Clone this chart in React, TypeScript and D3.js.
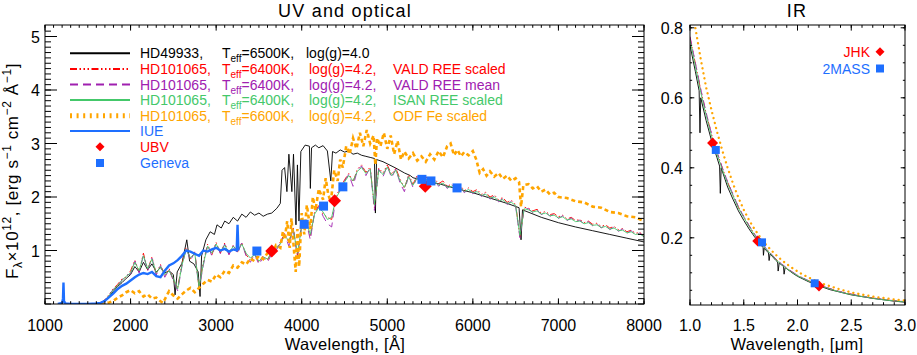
import React from 'react';
import * as d3 from 'd3';

// ---- UV / optical panel data (flux x 1e12, erg s^-1 cm^-2 A^-1) ----
const modelWave = d3.range(1650, 8001, 50);

const valdScaled = [
  0.02, 0.08, 0.18, 0.29, 0.37, 0.47, 0.50, 0.62, 0.82, 0.60,
  0.95, 0.64, 0.88, 0.56, 0.74, 0.52, 0.66, 0.45, 0.30, 0.75,
  1.06, 0.84, 0.98, 0.30, 0.78, 1.12, 0.92, 1.15, 0.95, 1.14,
  0.93, 1.10, 0.97, 1.15, 0.92, 0.82, 0.95, 0.78, 0.90, 0.82,
  0.98, 1.02, 1.16, 1.32, 1.14, 1.44, 0.90, 1.50, 1.58, 1.26,
  1.72, 1.84, 1.68, 1.62, 1.58, 2.02, 2.16, 2.32, 2.44, 2.28,
  2.52, 2.60, 2.46, 2.56, 1.80, 2.54, 2.45, 2.60, 2.42, 2.54,
  2.33, 2.16, 2.42, 2.24, 2.40, 2.30, 2.38, 2.28, 2.34, 2.25,
  2.30, 2.20, 2.24, 2.16, 2.22, 2.12, 2.17, 2.10, 2.14, 2.05,
  2.09, 2.00, 2.04, 1.95, 1.99, 1.90, 1.94, 1.86, 1.26, 1.81,
  1.79, 1.74, 1.77, 1.70, 1.73, 1.67, 1.69, 1.63, 1.66, 1.59,
  1.62, 1.56, 1.58, 1.52, 1.55, 1.49, 1.51, 1.45, 1.48, 1.42,
  1.45, 1.39, 1.41, 1.35, 1.38, 1.32, 1.34, 1.28,
];

const valdMean = [
  0.02, 0.07, 0.17, 0.28, 0.34, 0.45, 0.54, 0.56, 0.80, 0.58,
  0.92, 0.62, 0.86, 0.54, 0.72, 0.50, 0.64, 0.44, 0.25, 0.70,
  1.04, 0.82, 0.96, 0.28, 0.72, 1.10, 0.90, 1.14, 0.94, 1.12,
  0.92, 1.09, 0.95, 1.14, 0.90, 0.78, 0.93, 0.74, 0.87, 0.78,
  0.94, 1.00, 1.14, 1.30, 1.08, 1.42, 0.86, 1.48, 1.56, 1.20,
  1.70, 1.82, 1.64, 1.50, 1.44, 2.00, 2.14, 2.30, 2.42, 2.20,
  2.50, 2.58, 2.40, 2.55, 1.75, 2.52, 2.38, 2.58, 2.36, 2.52,
  2.26, 2.10, 2.40, 2.18, 2.38, 2.26, 2.36, 2.24, 2.32, 2.20,
  2.28, 2.16, 2.22, 2.12, 2.20, 2.08, 2.15, 2.06, 2.12, 2.01,
  2.07, 1.96, 2.02, 1.91, 1.97, 1.86, 1.92, 1.82, 1.24, 1.79,
  1.78, 1.71, 1.76, 1.67, 1.72, 1.64, 1.68, 1.60, 1.65, 1.56,
  1.61, 1.53, 1.57, 1.49, 1.54, 1.46, 1.50, 1.42, 1.47, 1.39,
  1.44, 1.36, 1.40, 1.32, 1.37, 1.29, 1.33, 1.25,
];

const isanScaled = [
  0.02, 0.07, 0.16, 0.27, 0.35, 0.44, 0.52, 0.58, 0.78, 0.62,
  0.90, 0.66, 0.84, 0.58, 0.70, 0.55, 0.62, 0.48, 0.28, 0.72,
  1.02, 0.86, 0.95, 0.32, 0.75, 1.08, 0.95, 1.12, 0.98, 1.10,
  0.96, 1.08, 1.00, 1.12, 0.95, 0.86, 0.92, 0.80, 0.88, 0.84,
  0.96, 1.04, 1.12, 1.28, 1.18, 1.40, 0.95, 1.45, 1.55, 1.30,
  1.68, 1.80, 1.72, 1.58, 1.62, 1.98, 2.12, 2.28, 2.40, 2.30,
  2.48, 2.55, 2.44, 2.52, 1.85, 2.50, 2.42, 2.56, 2.40, 2.50,
  2.30, 2.18, 2.38, 2.22, 2.36, 2.28, 2.34, 2.26, 2.30, 2.22,
  2.26, 2.18, 2.20, 2.14, 2.18, 2.10, 2.14, 2.08, 2.10, 2.03,
  2.05, 1.98, 2.00, 1.93, 1.95, 1.88, 1.90, 1.84, 1.28, 1.78,
  1.76, 1.72, 1.74, 1.68, 1.70, 1.65, 1.66, 1.61, 1.63, 1.57,
  1.59, 1.54, 1.55, 1.50, 1.52, 1.47, 1.48, 1.43, 1.45, 1.40,
  1.42, 1.37, 1.38, 1.33, 1.35, 1.30, 1.31, 1.26,
];

const hd49933Wave = [
  1650, 1700, 1750, 1800, 1850, 1900, 1950, 2000, 2050, 2100, 2150, 2200, 2250, 2300, 2350,
  2400, 2450, 2500, 2520, 2545, 2600, 2657, 2690, 2740, 2790, 2812, 2830, 2880, 2930, 2980,
  3010, 3060, 3100, 3150, 3200, 3250, 3300, 3350, 3400, 3450, 3500, 3550, 3600, 3650, 3710,
  3750, 3770, 3800, 3827, 3850, 3885, 3904, 3933, 3950, 3968, 3990, 4040, 4090, 4101, 4115,
  4160, 4200, 4250, 4300, 4340, 4360, 4400, 4450, 4500, 4550, 4600, 4650, 4700, 4750, 4800,
  4850, 4861, 4875, 4950, 5000, 5100, 5200, 5270, 5300, 5400, 5500, 5620, 5800, 6000, 6200,
  6400, 6540, 6563, 6580, 6800, 7000, 7200, 7400, 7600, 7800, 8000,
];
const hd49933Flux = [
  0.02, 0.06, 0.14, 0.24, 0.33, 0.40, 0.48, 0.55, 0.70, 0.60, 0.78, 0.64, 0.75, 0.60, 0.68,
  0.58, 0.62, 0.55, 0.17, 0.60, 0.76, 1.20, 0.80, 0.75, 0.60, 0.14, 0.90, 1.20, 1.35, 1.30,
  1.48, 1.42, 1.55, 1.50, 1.62, 1.55, 1.68, 1.62, 1.72, 1.66, 1.70, 1.64, 1.68, 1.70, 1.79,
  1.88, 2.50, 2.55, 2.10, 2.80, 2.10, 2.80, 1.48, 2.60, 1.55, 2.85, 2.97, 2.95, 2.16, 2.92,
  2.97, 2.92, 2.96, 2.86, 2.30, 2.85, 2.82, 2.88, 2.84, 2.86, 2.80, 2.82, 2.78, 2.76, 2.74,
  2.72, 1.70, 2.70, 2.66, 2.62, 2.54, 2.45, 2.40, 2.36, 2.32, 2.28, 2.24, 2.16, 2.08, 1.98,
  1.88, 1.80, 1.20, 1.76, 1.62, 1.52, 1.44, 1.37, 1.30, 1.23, 1.16,
];

const odfWave = [
  1650, 1700, 1750, 1800, 1850, 1900, 1950, 2000, 2050, 2100, 2150, 2200, 2250, 2300, 2350,
  2380, 2420, 2450, 2500, 2550, 2600, 2650, 2700, 2750, 2800, 2850, 2900, 2950, 3000, 3050,
  3100, 3150, 3200, 3250, 3300, 3350, 3400, 3450, 3500, 3550, 3600, 3650, 3700, 3750, 3780,
  3800, 3830, 3860, 3880, 3900, 3930, 3950, 3970, 4000, 4030, 4060, 4100, 4130, 4160, 4200,
  4250, 4280, 4310, 4340, 4380, 4420, 4450, 4480, 4520, 4560, 4600, 4640, 4680, 4720, 4760,
  4800, 4840, 4861, 4880, 4920, 4960, 5000, 5040, 5080, 5120, 5160, 5200, 5250, 5300, 5350,
  5400, 5450, 5500, 5550, 5600, 5650, 5700, 5740, 5780, 5820, 5860, 5900, 5950, 6000, 6040,
  6080, 6120, 6160, 6200, 6250, 6300, 6350, 6400, 6450, 6500, 6540, 6563, 6590, 6650, 6700,
  6750, 6800, 6850, 6900, 6950, 7000, 7100, 7200, 7300, 7400, 7500, 7600, 7700, 7800, 7900,
  8000,
];
const odfFlux = [
  0.00, 0.01, 0.03, 0.06, 0.12, 0.16, 0.22, 0.26, 0.20, 0.24, 0.14, 0.18, 0.10, 0.12, 0.05,
  0.02, 0.15, 0.24, 0.16, 0.10, 0.18, 0.25, 0.30, 0.22, 0.30, 0.38, 0.45, 0.42, 0.55, 0.50,
  0.62, 0.58, 0.72, 0.68, 0.78, 0.74, 0.85, 0.80, 0.90, 0.84, 0.95, 0.92, 1.10, 1.05, 1.35,
  1.20, 1.55, 1.05, 1.60, 1.20, 0.60, 1.40, 0.70, 1.70, 1.30, 1.85, 1.40, 2.00, 1.75, 2.15,
  1.95, 2.35, 2.05, 1.90, 2.50, 2.30, 2.70, 2.55, 2.95, 2.80, 3.10, 2.90, 3.20, 2.95, 3.25,
  3.00, 3.15, 2.60, 3.10, 2.95, 3.20, 2.90, 3.15, 2.80, 3.05, 2.70, 2.85, 2.72, 2.82, 2.68,
  2.76, 2.66, 2.80, 2.70, 2.86, 2.74, 2.95, 3.00, 2.78, 2.88, 2.76, 2.84, 2.78, 2.86, 2.70,
  2.45, 2.52, 2.40, 2.48, 2.38, 2.45, 2.34, 2.40, 2.30, 2.35, 2.28, 1.82, 2.22, 2.24, 2.16,
  2.20, 2.10, 2.14, 2.05, 2.08, 2.00, 1.98, 1.92, 1.90, 1.82, 1.80, 1.72, 1.70, 1.64, 1.62,
  1.55,
];

const iueWave = [
  1150, 1200, 1210, 1216, 1222, 1240, 1300, 1400, 1500, 1600, 1650, 1700, 1750, 1800, 1850,
  1900, 1950, 2000, 2050, 2100, 2150, 2200, 2250, 2300, 2350, 2400, 2450, 2500, 2550, 2600,
  2650, 2700, 2750, 2800, 2850, 2900, 2950, 3000, 3050, 3100, 3150, 3200, 3240, 3250, 3260,
];
const iueFlux = [
  0.00, 0.02, 0.10, 0.40, 0.05, 0.01, 0.00, 0.00, 0.00, 0.01, 0.02, 0.06, 0.13, 0.20, 0.28,
  0.34, 0.38, 0.44, 0.50, 0.55, 0.58, 0.56, 0.60, 0.52, 0.50, 0.62, 0.72, 0.76, 0.82, 0.90,
  1.00, 0.98, 0.94, 0.90, 1.00, 0.98, 1.02, 1.05, 1.00, 1.03, 0.98, 1.02, 1.00, 1.48, 1.00,
];

const ubvWave = [3650, 4384, 5444];
const ubvFlux = [0.99, 1.93, 2.2];
const genevaWave = [3476, 4029, 4255, 4481, 5405, 5510, 5815];
const genevaFlux = [0.99, 1.49, 1.83, 2.19, 2.33, 2.3, 2.17];

// ---- IR panel data (microns) ----
const irWave = d3.range(1.0, 3.001, 0.05);
const irValdScaled = [
  0.772, 0.698, 0.622, 0.556, 0.496, 0.445, 0.4, 0.359, 0.323, 0.288, 0.261, 0.234, 0.21, 0.19,
  0.172, 0.155, 0.139, 0.125, 0.113, 0.102, 0.093, 0.085, 0.078, 0.071, 0.065, 0.06, 0.055,
  0.05, 0.046, 0.042, 0.039, 0.036, 0.033, 0.03, 0.028, 0.026, 0.024, 0.022, 0.02, 0.019, 0.017,
];
const irValdMean = [
  0.775, 0.7, 0.625, 0.558, 0.498, 0.447, 0.401, 0.36, 0.324, 0.289, 0.261, 0.235, 0.211, 0.19,
  0.172, 0.156, 0.139, 0.126, 0.114, 0.103, 0.093, 0.085, 0.078, 0.071, 0.065, 0.06, 0.055,
  0.05, 0.046, 0.042, 0.039, 0.036, 0.033, 0.03, 0.028, 0.026, 0.024, 0.022, 0.02, 0.019, 0.017,
];
const irIsanScaled = [
  0.765, 0.69, 0.615, 0.55, 0.49, 0.44, 0.395, 0.355, 0.32, 0.285, 0.258, 0.232, 0.208, 0.188,
  0.17, 0.154, 0.137, 0.124, 0.112, 0.101, 0.092, 0.084, 0.077, 0.07, 0.064, 0.059, 0.054,
  0.049, 0.045, 0.041, 0.038, 0.035, 0.032, 0.03, 0.027, 0.025, 0.023, 0.021, 0.02, 0.018, 0.017,
];
const irOdf = [
  0.9, 0.8, 0.71, 0.63, 0.565, 0.505, 0.45, 0.4, 0.355, 0.315, 0.28, 0.25, 0.225, 0.203, 0.183,
  0.166, 0.151, 0.137, 0.125, 0.114, 0.104, 0.095, 0.087, 0.08, 0.073, 0.067, 0.062, 0.057,
  0.052, 0.048, 0.044, 0.041, 0.038, 0.035, 0.032, 0.03, 0.028, 0.026, 0.024, 0.022, 0.021,
];
const irHd49933Wave = [
  1.0, 1.05, 1.085, 1.093, 1.1, 1.15, 1.2, 1.25, 1.275, 1.282, 1.29, 1.35, 1.4, 1.45, 1.5, 1.55,
  1.6, 1.65, 1.68, 1.683, 1.69, 1.73, 1.736, 1.745, 1.8, 1.815, 1.82, 1.83, 1.87, 1.875, 1.885,
  1.95, 2.0, 2.1, 2.165, 2.17, 2.18, 2.3, 2.5, 2.7, 2.9, 3.0,
];
const irHd49933Flux = [
  0.75, 0.675, 0.62, 0.5, 0.6, 0.535, 0.478, 0.43, 0.405, 0.327, 0.4, 0.345, 0.31, 0.277, 0.25,
  0.225, 0.203, 0.183, 0.172, 0.15, 0.17, 0.157, 0.135, 0.154, 0.135, 0.131, 0.105, 0.128, 0.118,
  0.096, 0.115, 0.1, 0.09, 0.075, 0.067, 0.058, 0.065, 0.052, 0.037, 0.027, 0.019, 0.016,
];
const jhkWave = [1.21, 1.63, 2.2];
const jhkFlux = [0.471, 0.191, 0.062];
const twoMassWave = [1.24, 1.67, 2.16];
const twoMassFlux = [0.451, 0.187, 0.07];

const FONT = "'Liberation Sans', Arial, Helvetica, sans-serif";
const C = {
  black: '#000000',
  red: '#ff0000',
  purple: '#a020b0',
  green: '#44c86a',
  orange: '#ffa500',
  blue: '#1e6fff',
};
const RED_DASH = '7,2.5,1.5,2.5,1.5,2.5,1.5,2.5';
const PURPLE_DASH = '8,5';

const xL = d3.scaleLinear().domain([1000, 8000]).range([45, 644]);
const yL = d3.scaleLinear().domain([0, 5.215]).range([304, 25]);
const xR = d3.scaleLinear().domain([1, 3]).range([690, 905]);
const yR = d3.scaleLinear().domain([0.008, 0.808]).range([305, 25]);

const path = (xs: number[], ys: number[], sx: any, sy: any) =>
  d3.line<number>().x((_, i) => sx(xs[i])).y((d) => sy(d))(ys) || '';

const diamond = (cx: number, cy: number, r: number) =>
  `M${cx},${cy - r}L${cx + r},${cy}L${cx},${cy + r}L${cx - r},${cy}Z`;

type AxisProps = {
  sx: any; sy: any;
  xMajor: number[]; xMinor: number[]; yMajor: number[]; yMinor: number[];
  xLen: number; yLen: number;
};
const FrameTicks = ({ sx, sy, xMajor, xMinor, yMajor, yMinor, xLen, yLen }: AxisProps) => {
  const [x0, x1] = sx.range();
  const [y0, y1] = sy.range();
  const segs: string[] = [];
  xMinor.forEach((v) => { const x = sx(v); segs.push(`M${x},${y0}v${-xLen / 2}M${x},${y1}v${xLen / 2}`); });
  xMajor.forEach((v) => { const x = sx(v); segs.push(`M${x},${y0}v${-xLen}M${x},${y1}v${xLen}`); });
  yMinor.forEach((v) => { const y = sy(v); segs.push(`M${x0},${y}h${yLen / 2}M${x1},${y}h${-yLen / 2}`); });
  yMajor.forEach((v) => { const y = sy(v); segs.push(`M${x0},${y}h${yLen}M${x1},${y}h${-yLen}`); });
  return (
    <g>
      <path d={segs.join('')} stroke="#000" strokeWidth={1} fill="none" />
      <rect x={x0} y={y1} width={x1 - x0} height={y0 - y1} fill="none" stroke="#000" strokeWidth={1} />
    </g>
  );
};

const legendRows = [
  { color: C.black, name: 'HD49933,', teff: '6500K,', logg: 'log(g)=4.0', tail: '', dash: undefined as string | undefined },
  { color: C.red, name: 'HD101065,', teff: '6400K,', logg: 'log(g)=4.2,', tail: 'VALD REE scaled', dash: RED_DASH },
  { color: C.purple, name: 'HD101065,', teff: '6400K,', logg: 'log(g)=4.2,', tail: 'VALD REE mean', dash: PURPLE_DASH },
  { color: C.green, name: 'HD101065,', teff: '6400K,', logg: 'log(g)=4.2,', tail: 'ISAN REE scaled', dash: undefined },
  { color: C.orange, name: 'HD101065,', teff: '6600K,', logg: 'log(g)=4.2,', tail: 'ODF Fe scaled', dash: 'orange' },
];

export default function App() {
  const leftMajorX = d3.range(1000, 8001, 1000);
  const leftMinorX = d3.range(1000, 8001, 100);
  const leftMajorY = [1, 2, 3, 4, 5];
  const leftMinorY = d3.range(0, 5.2, 0.1);
  const rightMajorX = [1, 1.5, 2, 2.5, 3];
  const rightMinorX = d3.range(1, 3.001, 0.1);
  const rightMajorY = [0.2, 0.4, 0.6, 0.8];
  const rightMinorY = d3.range(0.05, 0.81, 0.05);
  const rowY = [53.3, 69, 84.5, 100, 115.7, 131, 146.7, 163];

  return (
    <svg width={917} height={355} style={{ position: 'absolute', left: 0, top: 0, background: '#fff' }}
      fontFamily={FONT}>
      <defs>
        <clipPath id="clipL"><rect x={45} y={25} width={599} height={279} /></clipPath>
        <clipPath id="clipR"><rect x={690} y={25} width={215} height={280} /></clipPath>
      </defs>

      {/* titles */}
      <text x={345} y={17} fontSize={18} letterSpacing={1.2} textAnchor="middle">UV and optical</text>
      <text x={797} y={17} fontSize={18} letterSpacing={1.2} textAnchor="middle">IR</text>

      {/* left panel curves */}
      <g clipPath="url(#clipL)" fill="none" strokeWidth={0.9}>
        <path d={path(hd49933Wave, hd49933Flux, xL, yL)} stroke={C.black} />
        <path d={path(modelWave, valdScaled, xL, yL)} stroke={C.red} strokeDasharray={RED_DASH} />
        <path d={path(modelWave, valdMean, xL, yL)} stroke={C.purple} strokeDasharray={PURPLE_DASH} />
        <path d={path(modelWave, isanScaled, xL, yL)} stroke={C.green} />
        <path d={path(odfWave, odfFlux, xL, yL)} stroke={C.orange} strokeWidth={2.6} strokeDasharray="4,3" />
        <path d={path(iueWave, iueFlux, xL, yL)} stroke={C.blue} strokeWidth={2.4} />
      </g>
      {ubvWave.map((w, i) => (
        <path key={'u' + i} d={diamond(xL(w), yL(ubvFlux[i]), 6.5)} fill={C.red} />
      ))}
      {genevaWave.map((w, i) => (
        <rect key={'g' + i} x={xL(w) - 4.5} y={yL(genevaFlux[i]) - 4.5} width={9} height={9} fill={C.blue} />
      ))}

      <FrameTicks sx={xL} sy={yL} xMajor={leftMajorX} xMinor={leftMinorX} yMajor={leftMajorY}
        yMinor={leftMinorY} xLen={5.6} yLen={12} />

      {leftMajorX.map((v) => (
        <text key={v} x={xL(v)} y={331} fontSize={16} textAnchor="middle">{v}</text>
      ))}
      {leftMajorY.map((v) => (
        <text key={v} x={40} y={yL(v) + 6} fontSize={16} textAnchor="end">{v}</text>
      ))}
      <text x={345} y={350} fontSize={16.5} letterSpacing={0.3} textAnchor="middle">Wavelength, [Å]</text>
      <text transform="translate(18,171) rotate(-90)" fontSize={17} letterSpacing={0.6} textAnchor="middle">
        F<tspan dy={4} fontSize={12}>λ</tspan><tspan dy={-4}>×10</tspan>
        <tspan dy={-7} fontSize={12}>12</tspan>
        <tspan dy={7}>, [erg s</tspan><tspan dy={-7} fontSize={12}>−1</tspan>
        <tspan dy={7}> cm</tspan><tspan dy={-7} fontSize={12}>−2</tspan>
        <tspan dy={7}> Å</tspan><tspan dy={-7} fontSize={12}>−1</tspan><tspan dy={7}>]</tspan>
      </text>

      {/* legend */}
      {legendRows.map((r, i) => {
        const y = rowY[i];
        return (
          <g key={'lg' + i}>
            {r.dash === 'orange' ? (
              <line x1={70} x2={130} y1={y} y2={y} stroke={C.orange} strokeWidth={5} strokeDasharray="2,4.6" />
            ) : (
              <line x1={70} x2={130} y1={y} y2={y} stroke={r.color} strokeWidth={2} strokeDasharray={r.dash} />
            )}
            <text y={y + 5} fontSize={14} fill={r.color}>
              <tspan x={140}>{r.name}</tspan>
              <tspan x={222}>T</tspan><tspan dy={4} fontSize={10}>eff</tspan><tspan dy={-4}>={r.teff}</tspan>
              <tspan x={i === 0 ? 306 : 309}>{r.logg}</tspan>
              {r.tail && <tspan x={393}>{r.tail}</tspan>}
            </text>
          </g>
        );
      })}
      <line x1={70} x2={130} y1={rowY[5]} y2={rowY[5]} stroke={C.blue} strokeWidth={2} />
      <text x={140} y={rowY[5] + 5} fontSize={14} fill={C.blue}>IUE</text>
      <path d={diamond(100, rowY[6], 4.5)} fill={C.red} />
      <text x={140} y={rowY[6] + 5} fontSize={14} fill={C.red}>UBV</text>
      <rect x={96} y={rowY[7] - 4} width={8} height={8} fill={C.blue} />
      <text x={140} y={rowY[7] + 5} fontSize={14} fill={C.blue}>Geneva</text>

      {/* right panel curves */}
      <g clipPath="url(#clipR)" fill="none" strokeWidth={0.9}>
        <path d={path(irHd49933Wave, irHd49933Flux, xR, yR)} stroke={C.black} />
        <path d={path(irWave, irValdScaled, xR, yR)} stroke={C.red} strokeDasharray={RED_DASH} />
        <path d={path(irWave, irValdMean, xR, yR)} stroke={C.purple} strokeDasharray={PURPLE_DASH} />
        <path d={path(irWave, irIsanScaled, xR, yR)} stroke={C.green} />
        <path d={path(irWave, irOdf, xR, yR)} stroke={C.orange} strokeWidth={2.3}
          strokeDasharray="0.1,5" strokeLinecap="round" />
      </g>
      {jhkWave.map((w, i) => (
        <path key={'j' + i} d={diamond(xR(w), yR(jhkFlux[i]), 5.5)} fill={C.red} />
      ))}
      {twoMassWave.map((w, i) => (
        <rect key={'m' + i} x={xR(w) - 4} y={yR(twoMassFlux[i]) - 4} width={8} height={8} fill={C.blue} />
      ))}

      <FrameTicks sx={xR} sy={yR} xMajor={rightMajorX} xMinor={rightMinorX} yMajor={rightMajorY}
        yMinor={rightMinorY} xLen={5.6} yLen={4.3} />
      {rightMajorX.map((v) => (
        <text key={v} x={xR(v)} y={331} fontSize={16} textAnchor="middle">{v.toFixed(1)}</text>
      ))}
      {rightMajorY.map((v) => (
        <text key={v} x={683} y={yR(v) + 6} fontSize={16} textAnchor="end">{v.toFixed(1)}</text>
      ))}
      <text x={797} y={350} fontSize={16.5} letterSpacing={0.3} textAnchor="middle">Wavelength, [<tspan>μ</tspan>m]</text>

      {/* IR legend */}
      <text x={870} y={57} fontSize={14} fill={C.red} textAnchor="end">JHK</text>
      <path d={diamond(880, 51.7, 4.5)} fill={C.red} />
      <text x={870} y={73.5} fontSize={14} fill={C.blue} textAnchor="end">2MASS</text>
      <rect x={876} y={64.5} width={8} height={8} fill={C.blue} />
    </svg>
  );
}
